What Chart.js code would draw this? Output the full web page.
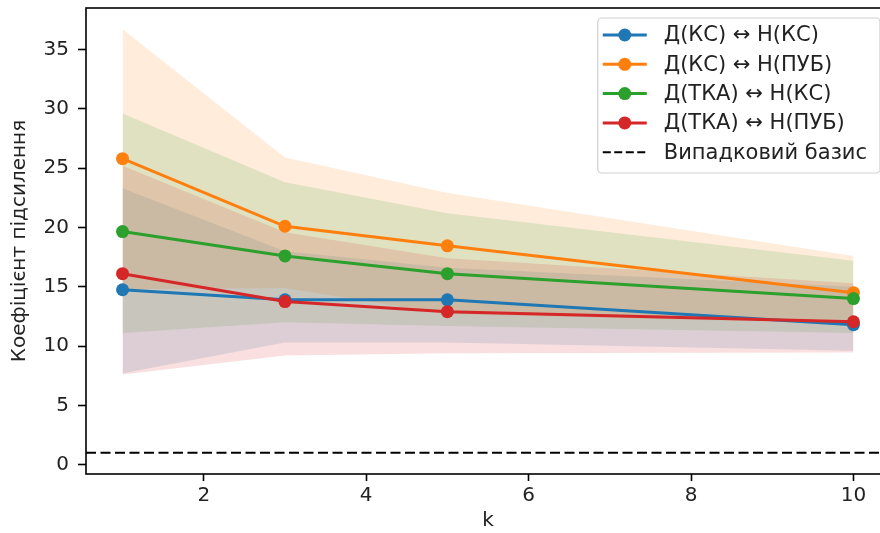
<!DOCTYPE html>
<html>
<head>
<meta charset="utf-8">
<script src="https://cdn.jsdelivr.net/npm/chart.js@4.4.0/dist/chart.umd.min.js"></script>
<style>
  html, body { margin: 0; padding: 0; overflow: hidden; background: #fff; }
  #myChart { position: absolute; left: 0; top: 0; }
</style>
</head>
<body>
<canvas id="myChart" width="890" height="533"></canvas>
<script>
// data
const kValues = [1, 3, 5, 10];
const seriesNames = ["Д(КС) ↔ Н(КС)", "Д(КС) ↔ Н(ПУБ)", "Д(ТКА) ↔ Н(КС)", "Д(ТКА) ↔ Н(ПУБ)"];

const ksKsMean = [14.75, 13.9, 13.9, 11.8];
const ksKsLow  = [7.7, 10.3, 10.3, 9.6];
const ksKsHigh = [23.3, 18.0, 16.6, 15.0];

const ksPubMean = [25.8, 20.1, 18.45, 14.5];
const ksPubLow  = [14.8, 14.9, 12.7, 11.9];
const ksPubHigh = [36.7, 25.9, 22.9, 17.6];

const tkaKsMean = [19.65, 17.6, 16.1, 14.0];
const tkaKsLow  = [11.1, 12.0, 11.7, 11.1];
const tkaKsHigh = [29.6, 23.8, 21.2, 17.2];

const tkaPubMean = [16.1, 13.75, 12.9, 12.05];
const tkaPubLow  = [7.6, 9.2, 9.4, 9.45];
const tkaPubHigh = [25.2, 19.6, 17.4, 15.3];

const baselineName = "Випадковий базис";
const baselineValue = 1;

const xTicks = [2, 4, 6, 8, 10];
const yTicks = [0, 5, 10, 15, 20, 25, 30, 35];

const means = [ksKsMean, ksPubMean, tkaKsMean, tkaPubMean];
const lows = [ksKsLow, ksPubLow, tkaKsLow, tkaPubLow];
const highs = [ksKsHigh, ksPubHigh, tkaKsHigh, tkaPubHigh];

const colors = ["#1f77b4", "#ff7f0e", "#2ca02c", "#d62728"];
const fills = ["rgba(31,119,180,0.15)", "rgba(255,127,14,0.15)", "rgba(44,160,44,0.15)", "rgba(214,39,40,0.15)"];

const FONT = '"DejaVu Sans", sans-serif';
const FS = 20;
const X_MIN = 0.55, X_MAX = 10.45;

function pts(arr) {
  return kValues.map((k, j) => ({ x: k, y: arr[j] }));
}

// bands first (drawn underneath), then the mean lines on top
const datasets = [];
seriesNames.forEach((name, i) => {
  datasets.push({
    label: name,
    data: pts(means[i]),
    borderColor: colors[i],
    backgroundColor: colors[i],
    borderWidth: 3,
    pointRadius: 6.5,
    pointBorderWidth: 0,
    pointBackgroundColor: colors[i],
    tension: 0,
    fill: false,
    order: 60 - i
  });
});
seriesNames.forEach((name, i) => {
  datasets.push({
    label: name + " hi",
    data: pts(highs[i]),
    borderWidth: 0,
    pointRadius: 0,
    fill: false,
    order: 200 - i * 10
  });
  datasets.push({
    label: name + " lo",
    data: pts(lows[i]),
    borderWidth: 0,
    pointRadius: 0,
    backgroundColor: fills[i],
    fill: "-1",
    order: 199 - i * 10
  });
});
datasets.push({
  label: baselineName,
  data: [{ x: X_MIN, y: baselineValue }, { x: X_MAX, y: baselineValue }],
  borderColor: "#000",
  borderWidth: 2,
  borderDash: [10, 4.5],
  pointRadius: 0,
  fill: false,
  order: 0
});

// axes frame + legend box like matplotlib
const framePlugin = {
  id: "frame",
  afterDraw(chart) {
    const ctx = chart.ctx, a = chart.chartArea;
    ctx.save();
    ctx.strokeStyle = "#000";
    ctx.lineWidth = 1.6;
    ctx.strokeRect(a.left, a.top, a.right - a.left, a.bottom - a.top);

    ctx.font = "21px " + FONT;
    const labels = seriesNames.concat([baselineName]);
    const textW = Math.max(...labels.map(t => ctx.measureText(t).width));
    const rowH = 29.3;
    const w = 66 + textW + 13;
    const h = 155;
    const right = a.right - 10;
    const top = a.top + 10;
    const left = right - w;

    ctx.beginPath();
    ctx.roundRect(left, top, w, h, 4);
    ctx.fillStyle = "rgba(255,255,255,0.8)";
    ctx.fill();
    ctx.strokeStyle = "#d0d0d0";
    ctx.lineWidth = 1.2;
    ctx.stroke();

    labels.forEach((t, i) => {
      const y = top + 17 + i * rowH;
      ctx.beginPath();
      if (i < seriesNames.length) {
        ctx.strokeStyle = colors[i];
        ctx.lineWidth = 3;
        ctx.setLineDash([]);
        ctx.moveTo(left + 5, y);
        ctx.lineTo(left + 49, y);
        ctx.stroke();
        ctx.beginPath();
        ctx.fillStyle = colors[i];
        ctx.arc(left + 27, y, 6.5, 0, Math.PI * 2);
        ctx.fill();
      } else {
        ctx.strokeStyle = "#000";
        ctx.lineWidth = 2;
        ctx.setLineDash([8, 3.5]);
        ctx.moveTo(left + 5, y);
        ctx.lineTo(left + 49, y);
        ctx.stroke();
        ctx.setLineDash([]);
      }
      ctx.fillStyle = "#222";
      ctx.textAlign = "left";
      ctx.textBaseline = "middle";
      ctx.fillText(t, left + 66, y + 1);
    });
    ctx.restore();
  }
};

new Chart("myChart", {
  type: "line",
  data: { datasets: datasets },
  options: {
    responsive: false,
    animation: false,
    layout: { autoPadding: false, padding: { top: 8, right: 0, left: 0, bottom: 0 } },
    plugins: { legend: { display: false }, tooltip: { enabled: false } },
    scales: {
      x: {
        type: "linear",
        min: X_MIN,
        max: X_MAX,
        afterBuildTicks: axis => { axis.ticks = xTicks.map(v => ({ value: v })); },
        afterFit: axis => { axis.height = 59; axis.paddingLeft = 0; axis.paddingRight = 0; },
        ticks: { color: "#222", font: { size: FS, family: FONT }, padding: 3, maxRotation: 0, autoSkip: false },
        grid: { drawOnChartArea: false, drawTicks: true, tickLength: 7, tickColor: "#000", tickWidth: 1.6 },
        border: { display: false },
        title: { display: true, text: "k", color: "#222", font: { size: FS, family: FONT }, padding: { top: 0, bottom: 0 } }
      },
      y: {
        type: "linear",
        min: -0.785,
        max: 38.5,
        afterBuildTicks: axis => { axis.ticks = yTicks.map(v => ({ value: v })); },
        afterFit: axis => { axis.width = 86; axis.paddingTop = 0; axis.paddingBottom = 0; },
        ticks: { color: "#222", font: { size: FS, family: FONT }, padding: 9, autoSkip: false },
        grid: { drawOnChartArea: false, drawTicks: true, tickLength: 8, tickColor: "#000", tickWidth: 1.6 },
        border: { display: false },
        title: { display: true, text: "Коефіцієнт підсилення", color: "#222", font: { size: FS, family: FONT }, padding: { top: 8, bottom: 0 } }
      }
    }
  },
  plugins: [framePlugin]
});
</script>
</body>
</html>
